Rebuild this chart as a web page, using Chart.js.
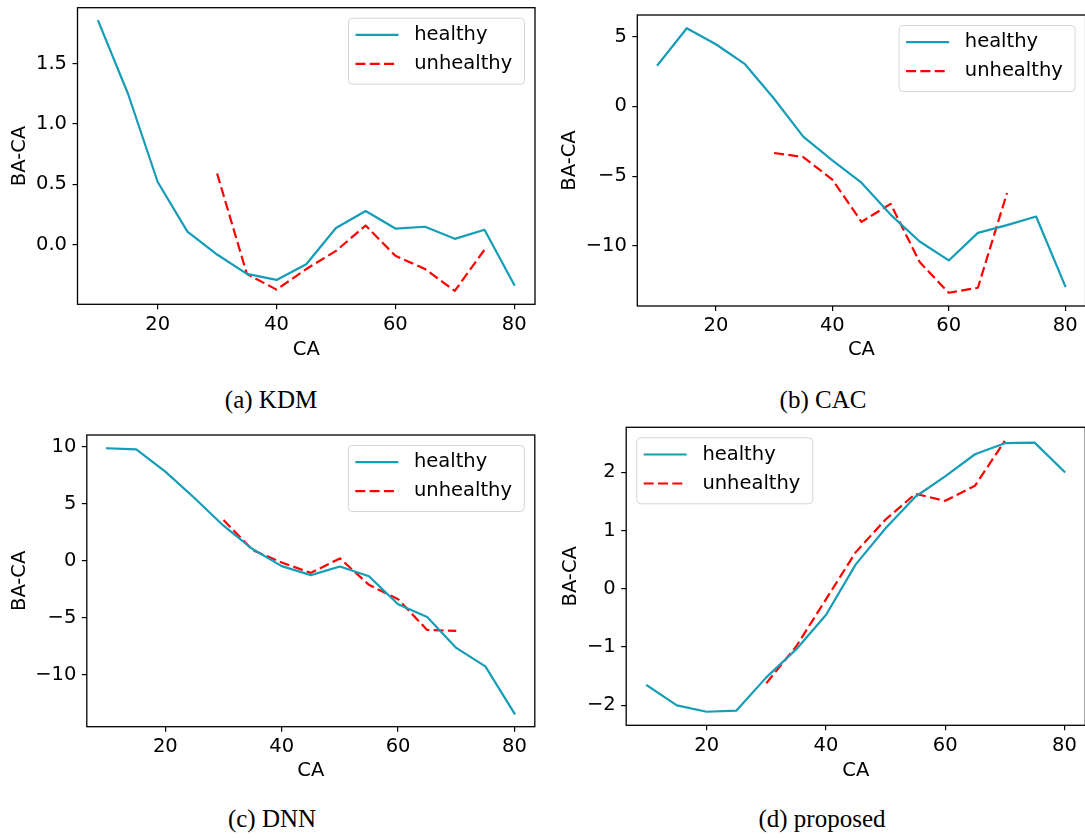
<!DOCTYPE html>
<html><head><meta charset="utf-8">
<script src="https://cdn.jsdelivr.net/npm/chart.js@4.4.1/dist/chart.umd.min.js"></script>
<style>
html,body{margin:0;padding:0;background:#fff;overflow:hidden;width:1085px;height:840px;position:relative;}
canvas{position:absolute;}
.cap{position:absolute;font-family:"Liberation Serif","DejaVu Serif",serif;font-size:25px;line-height:24px;color:#000;text-align:center;width:300px;white-space:nowrap;}
</style></head><body>
<canvas id="pa" width="540" height="380" style="left:0;top:0"></canvas>
<canvas id="pb" width="560" height="380" style="left:540px;top:0"></canvas>
<canvas id="pc" width="540" height="380" style="left:0;top:420px"></canvas>
<canvas id="pd" width="560" height="380" style="left:540px;top:420px"></canvas>
<div class="cap" id="capa" style="left:121px;top:388px"></div>
<div class="cap" id="capb" style="left:673px;top:388px"></div>
<div class="cap" id="capc" style="left:122px;top:807px"></div>
<div class="cap" id="capd" style="left:672px;top:807px"></div>
<script>
// ---- data ----
const ages = [10, 15, 20, 25, 30, 35, 40, 45, 50, 55, 60, 65, 70, 75, 80];
const kdmUnhealthyAges = [30, 35, 40, 45, 50, 55, 60, 65, 70, 75];
const unhealthyAges = [30, 35, 40, 45, 50, 55, 60, 65, 70];

const kdmHealthy   = [1.85, 1.25, 0.52, 0.11, -0.08, -0.24, -0.29, -0.16, 0.14, 0.28, 0.135, 0.15, 0.05, 0.125, -0.33];
const kdmUnhealthy = [0.59, -0.24, -0.37, -0.20, -0.05, 0.16, -0.09, -0.20, -0.38, -0.04];
const cacHealthy   = [2.98, 5.61, 4.46, 3.03, 0.55, -2.17, -3.87, -5.47, -7.76, -9.69, -11.05, -9.07, -8.52, -7.90, -12.89];
const cacUnhealthy = [-3.34, -3.63, -5.25, -8.28, -6.99, -11.17, -13.37, -13.01, -6.21];
const dnnHealthy   = [9.88, 9.79, 7.83, 5.51, 3.08, 1.03, -0.47, -1.26, -0.50, -1.35, -3.81, -4.93, -7.65, -9.27, -13.40];
const dnnUnhealthy = [3.58, 0.94, -0.15, -1.06, 0.21, -2.11, -3.37, -6.07, -6.16];
const propHealthy   = [-1.66, -2.00, -2.11, -2.09, -1.52, -1.04, -0.45, 0.42, 1.04, 1.58, 1.93, 2.31, 2.50, 2.51, 2.01];
const propUnhealthy = [-1.62, -0.99, -0.18, 0.63, 1.19, 1.63, 1.51, 1.77, 2.54];

const xTicks = [20, 40, 60, 80];
const xTickLabels = ['20', '40', '60', '80'];
const kdmYTicks = [0, 0.5, 1, 1.5];
const kdmYLabels = ['0.0', '0.5', '1.0', '1.5'];
const cacYTicks = [-10, -5, 0, 5];
const cacYLabels = ['\u221210', '\u22125', '0', '5'];
const dnnYTicks = [-10, -5, 0, 5, 10];
const dnnYLabels = ['\u221210', '\u22125', '0', '5', '10'];
const propYTicks = [-2, -1, 0, 1, 2];
const propYLabels = ['\u22122', '\u22121', '0', '1', '2'];

const seriesNames = ['healthy', 'unhealthy'];
const captions = ['(a) KDM', '(b) CAC', '(c) DNN', '(d) proposed'];
const xTitle = 'CA';
const yTitle = 'BA-CA';

// ---- styles / layout ----
const HEALTHY_COLOR = '#159db8';
const UNHEALTHY_COLOR = '#ff0000';
const FONT = {family: 'DejaVu Sans', size: 19.5};

const framePlugin = {
  id: 'frame',
  afterDatasetsDraw(chart, args, opts) {
    const {ctx, chartArea: a} = chart;
    ctx.save();
    ctx.setLineDash([]);
    ctx.strokeStyle = '#000';
    ctx.lineWidth = 1.3;
    ctx.strokeRect(a.left, a.top, a.right - a.left, a.bottom - a.top);
    // legend box
    const w = 176, h = 66, inset = 10.5;
    const x0 = opts.corner === 'left' ? a.left + inset : a.right - inset - w;
    const y0 = a.top + inset;
    ctx.beginPath();
    if (ctx.roundRect) ctx.roundRect(x0, y0, w, h, 4); else ctx.rect(x0, y0, w, h);
    ctx.fillStyle = 'rgba(255,255,255,0.8)';
    ctx.fill();
    ctx.strokeStyle = '#d5d5d5';
    ctx.lineWidth = 1;
    ctx.stroke();
    chart.data.datasets.forEach((ds, i) => {
      const yy = y0 + 16.7 + i * 29;
      ctx.beginPath();
      ctx.strokeStyle = ds.borderColor;
      ctx.lineWidth = ds.borderWidth;
      ctx.setLineDash(ds.borderDash || []);
      ctx.moveTo(x0 + 7, yy);
      ctx.lineTo(x0 + 50, yy);
      ctx.stroke();
      ctx.setLineDash([]);
      ctx.fillStyle = '#000';
      ctx.font = FONT.size + 'px "' + FONT.family + '"';
      ctx.textBaseline = 'middle';
      ctx.textAlign = 'left';
      ctx.fillText(ds.label, x0 + 65.7, yy);
    });
    ctx.restore();
  }
};

function range(vals) {
  const mn = Math.min(...vals), mx = Math.max(...vals);
  const m = (mx - mn) * 0.05;
  return [mn - m, mx + m];
}

function pairs(xs, ys) { return xs.map((x, i) => ({x: x, y: ys[i]})); }

function makeChart(id, healthy, unhealthy, uAges, yTicks, yLabels, L) {
  const [xmin, xmax] = range(ages);
  const [ymin, ymax] = range(healthy.concat(unhealthy));
  new Chart(document.getElementById(id), {
    type: 'line',
    data: {
      datasets: [
        {label: seriesNames[0], data: pairs(ages, healthy), borderColor: HEALTHY_COLOR, borderWidth: 2.2, pointRadius: 0, fill: false, tension: 0, borderJoinStyle: 'round', borderCapStyle: 'square'},
        {label: seriesNames[1], data: pairs(uAges, unhealthy), borderColor: UNHEALTHY_COLOR, borderWidth: 2.2, borderDash: [10, 4.3], pointRadius: 0, fill: false, tension: 0, borderJoinStyle: 'round', borderCapStyle: 'butt'}
      ]
    },
    options: {
      responsive: false, animation: false, devicePixelRatio: 1,
      layout: {padding: {left: 0, top: L.top, right: L.right, bottom: 0}},
      plugins: {legend: {display: false}, tooltip: {enabled: false}, frame: {corner: L.corner}},
      scales: {
        x: {
          type: 'linear', position: 'bottom', min: xmin, max: xmax,
          afterBuildTicks: s => { s.ticks = xTicks.map(v => ({value: v})); },
          afterFit: s => { s.height = L.xh; s.paddingLeft = 0; s.paddingRight = 0; s.paddingTop = 0; s.paddingBottom = 0; },
          ticks: {callback: v => xTickLabels[xTicks.indexOf(v)], color: '#000', font: FONT, padding: 3.5, maxRotation: 0, autoSkip: false},
          grid: {display: true, drawOnChartArea: false, drawTicks: true, tickLength: 5, color: '#000', lineWidth: 1.2},
          border: {display: false},
          title: {display: true, text: xTitle, color: '#000', font: FONT, padding: {top: 0, bottom: L.xtp}}
        },
        y: {
          type: 'linear', position: 'left', min: ymin, max: ymax,
          afterBuildTicks: s => { s.ticks = yTicks.map(v => ({value: v})); },
          afterFit: s => { s.width = L.yw; s.paddingLeft = 0; s.paddingRight = 0; s.paddingTop = 0; s.paddingBottom = 0; },
          ticks: {callback: v => yLabels[yTicks.indexOf(v)], color: '#000', font: FONT, padding: 5.5, autoSkip: false},
          grid: {display: true, drawOnChartArea: false, drawTicks: true, tickLength: 5, color: '#000', lineWidth: 1.2},
          border: {display: false},
          title: {display: true, text: yTitle, color: '#000', font: FONT, padding: {top: L.ytp, bottom: 0}}
        }
      }
    },
    plugins: [framePlugin]
  });
}

makeChart('pa', kdmHealthy, kdmUnhealthy, kdmUnhealthyAges, kdmYTicks, kdmYLabels,
  {top: 7.7, right: 5, yw: 77.5, xh: 75.7, xtp: 18.8, ytp: 8.6, corner: 'right'});
makeChart('pb', cacHealthy, cacUnhealthy, unhealthyAges, cacYTicks, cacYLabels,
  {top: 15, right: 14.4, yw: 97.3, xh: 74, xtp: 18.8, ytp: 18.1, corner: 'right'});
makeChart('pc', dnnHealthy, dnnUnhealthy, unhealthyAges, dnnYTicks, dnnYLabels,
  {top: 15, right: 5.2, yw: 86.8, xh: 73.3, xtp: 17.8, ytp: 7.9, corner: 'right'});
makeChart('pd', propHealthy, propUnhealthy, unhealthyAges, propYTicks, propYLabels,
  {top: 7.3, right: 14.7, yw: 86.2, xh: 74.7, xtp: 17.8, ytp: 19.1, corner: 'left'});

['capa', 'capb', 'capc', 'capd'].forEach((id, i) => { document.getElementById(id).textContent = captions[i]; });
</script>
</body></html>
